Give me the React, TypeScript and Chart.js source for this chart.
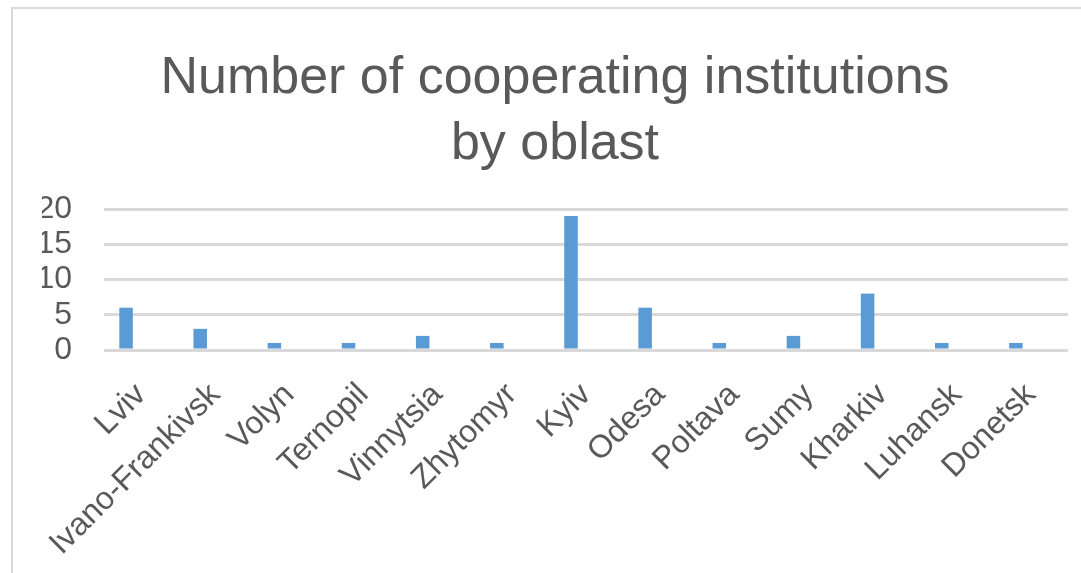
import React, { useEffect, useRef } from "react";
import { Chart, registerables } from "chart.js";

Chart.register(...registerables);

const titleLines = ["Number of cooperating institutions", "by oblast"];
const oblasts = [
  "Lviv",
  "Ivano-Frankivsk",
  "Volyn",
  "Ternopil",
  "Vinnytsia",
  "Zhytomyr",
  "Kyiv",
  "Odesa",
  "Poltava",
  "Sumy",
  "Kharkiv",
  "Luhansk",
  "Donetsk",
];
const institutions = [6, 3, 1, 1, 2, 1, 19, 6, 1, 2, 8, 1, 1];
// second (empty) series slot, as in the original clustered chart
const emptySeries = [null, null, null, null, null, null, null, null, null, null, null, null, null];
const yTicks = [0, 5, 10, 15, 20];

export default function App() {
  const ref = useRef<HTMLCanvasElement | null>(null);

  useEffect(() => {
    if (!ref.current) return;
    document.body.style.overflow = "hidden";
    const font = "'Liberation Sans', Arial, sans-serif";
    const chart = new Chart(ref.current, {
      type: "bar",
      data: {
        labels: oblasts,
        datasets: [
          {
            label: "Institutions",
            data: institutions,
            backgroundColor: "#5B9BD5",
            borderWidth: 0,
            categoryPercentage: 0.81,
            barPercentage: 0.45,
          },
          {
            label: "",
            data: emptySeries,
            backgroundColor: "#ED7D31",
            borderWidth: 0,
            categoryPercentage: 0.81,
            barPercentage: 0.45,
          },
        ],
      },
      options: {
        animation: false,
        responsive: true,
        maintainAspectRatio: false,
        layout: { padding: { left: 29, right: 13, top: 0, bottom: 0 } },
        plugins: {
          legend: { display: false },
          tooltip: { enabled: false },
          title: {
            display: true,
            text: titleLines,
            color: "#595959",
            font: { family: font, size: 52, weight: "normal", lineHeight: 66 / 52 },
            padding: { top: 37, bottom: 31 },
          },
        },
        scales: {
          x: {
            grid: { display: false },
            border: { display: false },
            ticks: {
              color: "#595959",
              font: { family: font, size: 32 },
              minRotation: 45,
              maxRotation: 45,
              autoSkip: false,
              padding: 18,
            },
            afterFit: (scale: any) => {
              scale.height = 223;
            },
          },
          y: {
            min: 0,
            max: 20,
            grid: { color: "#d9d9d9", lineWidth: 3, drawTicks: false },
            border: { display: false },
            afterBuildTicks: (scale: any) => {
              scale.ticks = yTicks.map((v) => ({ value: v }));
            },
            ticks: {
              color: "#595959",
              font: { family: font, size: 32 },
              padding: 32,
              autoSkip: false,
              stepSize: 5,
            },
            afterFit: (scale: any) => {
              scale.width = 62;
            },
          },
        },
      },
    });
    return () => chart.destroy();
  }, []);

  return (
    <div
      style={{
        position: "absolute",
        left: 11,
        top: 7,
        width: 1070,
        height: 566,
        boxSizing: "border-box",
        borderLeft: "2px solid #d9d9d9",
        borderTop: "2px solid #d9d9d9",
        background: "#fff",
      }}
    >
      <div style={{ position: "relative", width: 1068, height: 564 }}>
        <canvas ref={ref} />
      </div>
    </div>
  );
}
